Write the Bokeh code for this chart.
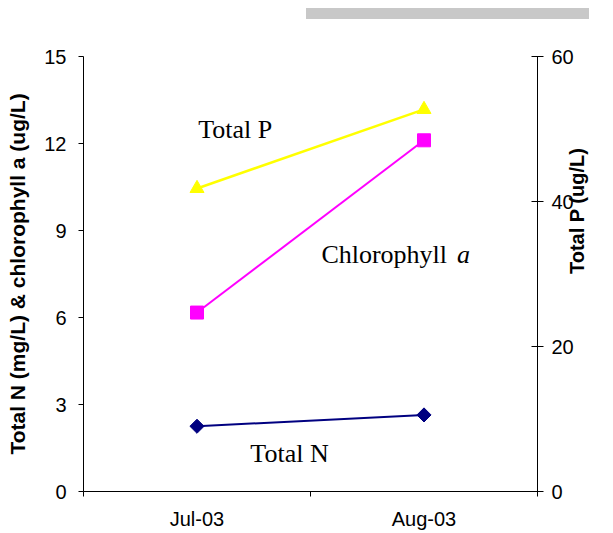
import math
from bokeh.plotting import figure
from bokeh.models import (Range1d, LinearAxis, FixedTicker, Label, ColumnDataSource,
                          Div, Spacer)
from bokeh.layouts import column, row
from bokeh.embed import file_html
from bokeh.resources import INLINE

# ---- data ----
months = ["Jul-03", "Aug-03"]
total_n = [2.25, 2.64]          # mg/L (left axis)
chlorophyll_a = [6.17, 12.11]   # ug/L (left axis)
total_p = [41.8, 52.7]          # ug/L (right axis)
left_ticks = [0, 3, 6, 9, 12, 15]
right_ticks = [0, 20, 40, 60]

x_pos = [i + 0.5 for i in range(len(months))]
x_bounds = [float(i) for i in range(len(months) + 1)]

src = ColumnDataSource(dict(x=x_pos, n=total_n, chl=chlorophyll_a, p=total_p))

p = figure(frame_width=454, frame_height=435, output_backend="svg", toolbar_location=None,
           x_range=Range1d(0, len(months)), y_range=Range1d(0, 15),
           min_border_left=83, min_border_right=0, min_border_top=32,
           min_border_bottom=0, outline_line_color=None)
p.extra_y_ranges = {"p": Range1d(0, 60)}
p.grid.visible = False
p.background_fill_color = "white"
p.border_fill_color = "white"

# x axis: labels at category centres, ticks at category boundaries
xa = p.xaxis[0]
xa.ticker = FixedTicker(ticks=x_pos, minor_ticks=x_bounds)
xa.major_label_overrides = {x: m for x, m in zip(x_pos, months)}
xa.major_tick_in = 0
xa.major_tick_out = 0
xa.minor_tick_in = 0
xa.minor_tick_out = 5
xa.minor_tick_line_color = "black"
xa.axis_line_color = "black"
xa.major_label_text_font = "Liberation Sans"
xa.major_label_text_font_size = "20px"
xa.major_label_text_color = "black"
xa.major_label_standoff = 11

# left axis
ya = p.yaxis[0]
ya.ticker = FixedTicker(ticks=left_ticks)
ya.major_tick_in = 0
ya.major_tick_out = 5
ya.minor_tick_line_color = None
ya.axis_line_color = "black"
ya.major_tick_line_color = "black"
ya.major_label_text_font = "Liberation Sans"
ya.major_label_text_font_size = "20px"
ya.major_label_text_color = "black"
ya.major_label_standoff = 12
ya.axis_label = "Total N (mg/L) & chlorophyll a (ug/L)"
ya.axis_label_text_font = "Liberation Sans"
ya.axis_label_text_font_style = "bold"
ya.axis_label_text_font_size = "21px"
ya.axis_label_text_color = "black"
ya.axis_label_standoff = 12

# right axis
ra = LinearAxis(y_range_name="p", ticker=FixedTicker(ticks=right_ticks))
ra.major_tick_in = 6
ra.major_tick_out = 6
ra.minor_tick_line_color = None
ra.axis_line_color = "black"
ra.major_tick_line_color = "black"
ra.major_label_text_font = "Liberation Sans"
ra.major_label_text_font_size = "20px"
ra.major_label_text_color = "black"
ra.major_label_standoff = 8
ra.axis_label = "Total P (ug/L)"
ra.axis_label_text_font = "Liberation Sans"
ra.axis_label_text_font_style = "bold"
ra.axis_label_text_font_size = "20px"
ra.axis_label_text_color = "black"
ra.axis_label_standoff = 0
ra.axis_label_orientation = math.pi / 2
p.add_layout(ra, "right")

# series
p.line("x", "p", source=src, y_range_name="p", line_color="#FFFF00", line_width=2.5)
p.scatter("x", "p", source=src, y_range_name="p", marker="triangle", size=14,
          fill_color="#FFFF00", line_color="#FFFF00")

p.line("x", "chl", source=src, line_color="#FF00FF", line_width=2)
p.scatter("x", "chl", source=src, marker="square", size=13,
          fill_color="#FF00FF", line_color="#FF00FF")

p.line("x", "n", source=src, line_color="#000080", line_width=2)
p.scatter("x", "n", source=src, marker="square", angle=math.pi / 4, size=10,
          fill_color="#000080", line_color="#000080")

# in-plot series labels
def lab(x, y, text, style="normal"):
    p.add_layout(Label(x=x, y=y, y_offset=9, text=text, text_font="Liberation Serif",
                       text_font_size="26px", text_font_style=style,
                       text_color="black", text_baseline="alphabetic"))

lab(0.505, 12.16, "Total P")
lab(1.048, 7.85, "Chlorophyll")
lab(1.645, 7.85, "a", "italic")
lab(0.735, 1.01, "Total N")

bar = Div(text="", width=283, height=11, styles={"background-color": "#c8c8c8"})
layout = column(Spacer(height=3), row(Spacer(width=301), bar), p)

open("out.html", "w").write(file_html(layout, INLINE))
